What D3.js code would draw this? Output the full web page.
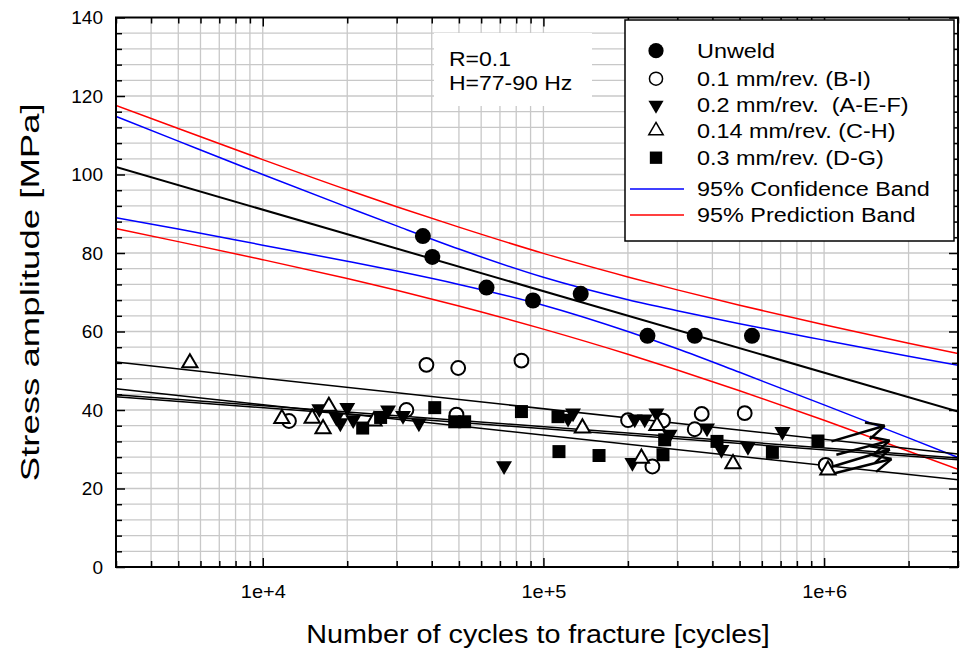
<!DOCTYPE html>
<html>
<head>
<meta charset="utf-8">
<script src="https://cdn.jsdelivr.net/npm/d3@7"></script>
<style>
body { margin: 0; background: #fff; }
text { font-family: "Liberation Sans", Arial, sans-serif; }
</style>
</head>
<body>
<div id="chart"></div>
<script>
// [cycles to fracture, stress amplitude MPa]
var unweld = [[37200, 84.3], [40200, 79.0], [62700, 71.2], [91800, 67.9], [135800, 69.6], [234800, 58.9], [345900, 58.9], [553400, 58.9]];
var feed01 = [[12400, 37.2], [32500, 40.0], [38300, 51.5], [49700, 50.7], [49000, 38.8], [83500, 52.6], [200200, 37.4], [266700, 37.3],
    [244500, 25.6], [366400, 39.0], [345900, 35.1], [521400, 39.2], [1013000, 26.0]];
var feed02 = [[15900, 40.3], [20000, 40.6], [18300, 38.1], [18900, 36.7], [21000, 37.5], [27950, 40.0], [31600, 38.6], [36000, 36.7],
    [72400, 25.8], [122400, 37.9], [127500, 39.2], [211500, 37.7], [229600, 37.7], [252700, 39.2], [281800, 33.8], [207500, 26.6],
    [382700, 35.4], [430700, 29.9], [535500, 30.7], [710300, 34.5]];
var feed014 = [[5500, 52.0], [11700, 37.8], [15000, 37.9], [16400, 35.2], [17200, 40.9], [24900, 37.2], [137700, 35.4], [253900, 36.0],
    [223400, 27.7], [473700, 26.3], [1032000, 24.7]];
var feed03 = [[22700, 35.4], [26300, 38.1], [41000, 40.6], [48300, 37.0], [52400, 37.0], [83500, 39.6], [112700, 38.3], [113600, 29.4],
    [157800, 28.4], [270400, 32.4], [266700, 28.6], [415400, 32.0], [654300, 29.2], [951000, 32.1]];
// run-out arrows: start, end
var runouts = [[[1062000, 32.0], [1644000, 36.0]], [[1106000, 28.6], [1713000, 32.2]], [[1073000, 25.6], [1713000, 30.0]], [[1091000, 23.9], [1738000, 27.5]]];

// fits and bands of the unwelded series
var unweldFit = [[3000, 101.9], [3000000, 39.6]];
var bandN = [3000, 5000, 10000, 20000, 30000, 50000, 100000, 200000, 300000, 500000, 1000000, 2000000, 3000000];
var predUpper = [117.6, 111.7, 103.8, 96.1, 91.8, 86.6, 79.9, 73.9, 70.6, 66.7, 61.7, 57.0, 54.4];
var confUpper = [114.8, 108.5, 100.0, 91.7, 86.9, 81.0, 73.8, 68.1, 65.3, 62.0, 57.8, 53.7, 51.4];
var confLower = [89.0, 86.1, 82.0, 77.9, 75.4, 72.0, 66.7, 60.0, 55.6, 49.6, 41.3, 32.9, 27.9];
var predLower = [86.2, 82.9, 78.3, 73.5, 70.5, 66.5, 60.6, 54.2, 50.2, 44.9, 37.4, 29.5, 24.9];
// fits of the welded series
var weldFits = [[[3000, 52.2], [3000000, 28.8]], [[3000, 45.4], [3000000, 22.2]], [[3000, 43.9], [3000000, 27.8]], [[3000, 43.4], [3000000, 27.3]]];

var xMajor = [10000, 100000, 1000000];
var xLabels = ["1e+4", "1e+5", "1e+6"];
var yMajor = [0, 20, 40, 60, 80, 100, 120, 140];
var legendLabels = ["Unweld", "0.1 mm/rev. (B-I)", "0.2 mm/rev.  (A-E-F)", "0.14 mm/rev. (C-H)", "0.3 mm/rev. (D-G)",
    "95% Confidence Band", "95% Prediction Band"];
var noteLines = ["R=0.1", "H=77-90 Hz"];

function drawChart() {
    var W = 961, H = 649;
    var pl = 116, pr = 958, pt = 17.5, pb = 567;

    var svg = d3.select("#chart").append("svg").attr("width", W).attr("height", H);
    var x = d3.scaleLog().domain([3000, 3000000]).range([pl, pr]);
    var y = d3.scaleLinear().domain([0, 140]).range([pb, pt]);

    function stretch(sel, k) {
        sel.each(function() {
            var w = this.getComputedTextLength();
            d3.select(this).attr("textLength", w * k).attr("lengthAdjust", "spacingAndGlyphs");
        });
    }

    // minor tick values
    var xMinor = [];
    for (var d = 3; d <= 6; d++) {
        for (var m = 1; m <= 9; m++) {
            var v = m * Math.pow(10, d);
            if (v >= 3000 && v <= 3000000) xMinor.push(v);
        }
    }
    var yMinor = d3.range(0, 141, 4);

    // grid
    var grid = svg.append("g").attr("stroke", "#c8c8c8").attr("stroke-width", 1.3);
    grid.selectAll(".gx").data(xMinor.filter(function(v) { return v > 3000 && v < 3000000; })).enter().append("line")
        .attr("x1", function(v) { return x(v); }).attr("x2", function(v) { return x(v); })
        .attr("y1", pt).attr("y2", pb);
    grid.selectAll(".gy").data(yMinor.filter(function(v) { return v > 0 && v < 140; })).enter().append("line")
        .attr("y1", function(v) { return y(v); }).attr("y2", function(v) { return y(v); })
        .attr("x1", pl).attr("x2", pr);

    // note box
    svg.append("rect").attr("x", 434).attr("y", 33).attr("width", 158).attr("height", 73).attr("fill", "#fff");
    svg.selectAll(".note").data(noteLines).enter().append("text")
        .attr("x", 449).attr("y", function(d, i) { return 66 + i * 24; })
        .attr("font-size", 20).attr("fill", "#000").text(function(d) { return d; })
        .call(stretch, 1.15);

    svg.append("clipPath").attr("id", "plotclip").append("rect")
        .attr("x", pl).attr("y", pt).attr("width", pr - pl).attr("height", pb - pt);
    var plot = svg.append("g").attr("clip-path", "url(#plotclip)");

    var line = d3.line().x(function(d) { return x(d[0]); }).y(function(d) { return y(d[1]); });
    var curve = d3.line().curve(d3.curveMonotoneX).x(function(d) { return x(d[0]); }).y(function(d) { return y(d[1]); });

    function band(vals) {
        return bandN.map(function(n, i) { return [n, vals[i]]; });
    }
    [[predUpper, "#ff0000"], [predLower, "#ff0000"], [confUpper, "#0000ff"], [confLower, "#0000ff"]].forEach(function(b) {
        plot.append("path").attr("d", curve(band(b[0]))).attr("fill", "none").attr("stroke", b[1]).attr("stroke-width", 1.5);
    });
    plot.append("path").attr("d", line(unweldFit)).attr("fill", "none").attr("stroke", "#000").attr("stroke-width", 2);
    weldFits.forEach(function(f) {
        plot.append("path").attr("d", line(f)).attr("fill", "none").attr("stroke", "#000").attr("stroke-width", 1.5);
    });

    // markers
    var series = [
        {data: unweld, type: d3.symbolCircle, size: 201, rot: 0, fill: "#000", stroke: "none"},
        {data: feed01, type: d3.symbolCircle, size: 150, rot: 0, fill: "#fff", stroke: "#000"},
        {data: feed02, type: d3.symbolTriangle, size: 110, rot: 180, fill: "#000", stroke: "none"},
        {data: feed014, type: d3.symbolTriangle, size: 100, rot: 0, fill: "#fff", stroke: "#000"},
        {data: feed03, type: d3.symbolSquare, size: 169, rot: 0, fill: "#000", stroke: "none"}
    ];
    series.forEach(function(s) {
        plot.append("g").selectAll("path").data(s.data).enter().append("path")
            .attr("d", d3.symbol().type(s.type).size(s.size))
            .attr("transform", function(d) { return "translate(" + x(d[0]) + "," + y(d[1]) + ") rotate(" + s.rot + ")"; })
            .attr("fill", s.fill).attr("stroke", s.stroke).attr("stroke-width", 2);
    });

    // run-out arrows
    runouts.forEach(function(r) {
        var x1 = x(r[0][0]), y1 = y(r[0][1]), x2 = x(r[1][0]), y2 = y(r[1][1]);
        var a = Math.atan2(y2 - y1, x2 - x1);
        var g = plot.append("g").attr("stroke", "#000").attr("stroke-width", 2.5).attr("fill", "none");
        g.append("line").attr("x1", x1).attr("y1", y1).attr("x2", x2).attr("y2", y2);
        [-0.45, 0.45].forEach(function(s) {
            g.append("line").attr("x1", x2).attr("y1", y2)
                .attr("x2", x2 - 20 * Math.cos(a + s)).attr("y2", y2 - 20 * Math.sin(a + s));
        });
    });

    // frame and ticks
    function ticks(axis, vals, len, pos) {
        var g = svg.append("g").attr("transform", pos).call(axis.tickValues(vals).tickSize(len).tickFormat(""));
        g.select(".domain").remove();
        g.selectAll("line").attr("stroke-width", 1.5);
        return g;
    }
    var xMin = xMinor.filter(function(v) { return xMajor.indexOf(v) < 0; });
    var yMin = yMinor.filter(function(v) { return yMajor.indexOf(v) < 0; });
    ticks(d3.axisBottom(x), xMin, -6, "translate(0," + pb + ")");
    ticks(d3.axisBottom(x), xMajor, -9, "translate(0," + pb + ")");
    ticks(d3.axisTop(x), xMin, -6, "translate(0," + pt + ")");
    ticks(d3.axisTop(x), xMajor, -9, "translate(0," + pt + ")");
    ticks(d3.axisLeft(y), yMin, -6, "translate(" + pl + ",0)");
    ticks(d3.axisLeft(y), yMajor, -9, "translate(" + pl + ",0)");
    ticks(d3.axisRight(y), yMin, -6, "translate(" + pr + ",0)");
    ticks(d3.axisRight(y), yMajor, -9, "translate(" + pr + ",0)");

    var xAxis = svg.append("g").attr("transform", "translate(0," + pb + ")")
        .call(d3.axisBottom(x).tickValues(xMajor).tickSize(0).tickPadding(18).tickFormat(function(d, i) { return xLabels[i]; }));
    xAxis.select(".domain").remove();
    xAxis.selectAll("text").attr("font-size", 19).attr("fill", "#000").attr("font-family", "Liberation Sans, Arial, sans-serif").call(stretch, 1.05);

    var yAxis = svg.append("g").attr("transform", "translate(" + pl + ",0)")
        .call(d3.axisLeft(y).tickValues(yMajor).tickSize(0).tickPadding(13));
    yAxis.select(".domain").remove();
    yAxis.selectAll("text").attr("font-size", 19).attr("fill", "#000").attr("font-family", "Liberation Sans, Arial, sans-serif");

    svg.append("rect").attr("x", pl).attr("y", pt).attr("width", pr - pl).attr("height", pb - pt)
        .attr("fill", "none").attr("stroke", "#000").attr("stroke-width", 2);

    // axis titles
    svg.append("text").attr("x", 538).attr("y", 643).attr("text-anchor", "middle").attr("font-size", 25)
        .text("Number of cycles to fracture [cycles]").call(stretch, 1.15);
    svg.append("text").attr("transform", "translate(39," + ((pt + pb) / 2) + ") rotate(-90)")
        .attr("text-anchor", "middle").attr("font-size", 26).text("Stress amplitude [MPa]")
        .attr("textLength", 378).attr("lengthAdjust", "spacingAndGlyphs");

    // legend
    var lg = svg.append("g");
    lg.append("rect").attr("x", 625).attr("y", 20).attr("width", 329).attr("height", 221)
        .attr("fill", "#fff").attr("stroke", "#000").attr("stroke-width", 1.5);
    var rowY = [50.7, 78.7, 105, 130.7, 157.7, 189, 215];
    series.forEach(function(s, i) {
        lg.append("path").attr("d", d3.symbol().type(s.type).size(s.size * 0.9))
            .attr("transform", "translate(656," + rowY[i] + ") rotate(" + s.rot + ")")
            .attr("fill", s.fill).attr("stroke", s.stroke).attr("stroke-width", 1.5);
    });
    ["#0000ff", "#ff0000"].forEach(function(c, i) {
        lg.append("line").attr("x1", 630).attr("x2", 684).attr("y1", rowY[5 + i]).attr("y2", rowY[5 + i])
            .attr("stroke", c).attr("stroke-width", 1.5);
    });
    lg.selectAll(".lt").data(legendLabels).enter().append("text")
        .attr("x", 697).attr("y", function(d, i) { return rowY[i] + 7; })
        .attr("font-size", 20).attr("fill", "#000").style("white-space", "pre")
        .text(function(d) { return d; }).call(stretch, 1.17);
}

drawChart();
</script>
</body>
</html>
